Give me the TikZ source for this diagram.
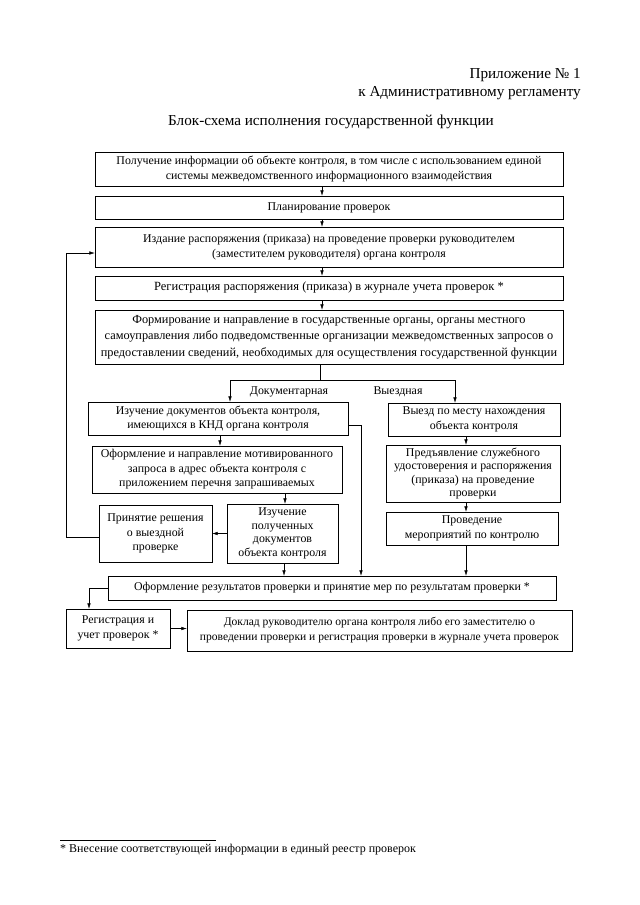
\documentclass[tikz,border=0pt]{standalone}
\usepackage{fontspec}
\setmainfont{Liberation Serif}
\usetikzlibrary{arrows.meta}
\tikzset{>={Latex[length=5pt,width=3.2pt]}}
\def\px{0.9311bp}
\tikzstyle{blok}=[rectangle,draw=black,thin,inner sep=0pt,align=center,font=\fontsize{11.1}{13.6}\selectfont]
\tikzstyle{blokbig}=[blok,font=\fontsize{11.7}{15.2}\selectfont]
\tikzstyle{bloktight}=[blok,font=\fontsize{11.1}{12.6}\selectfont]
\tikzstyle{podpis}=[inner sep=0pt,font=\fontsize{11.1}{13}\selectfont]
\tikzstyle{zagolovok}=[inner sep=0pt,font=\fontsize{14.2}{17}\selectfont]

\begin{document}
\begin{tikzpicture}[x=0.9311bp,y=-0.9311bp]
	\useasboundingbox (0,0) rectangle (639,905);

	\node[zagolovok,anchor=east] (pril) at (581,75) {Приложение № 1};
	\node[zagolovok,anchor=east] (regl) at (581,93) {к Административному регламенту};
	\node[zagolovok] (titul) at (331,122) {Блок-схема исполнения государственной функции};

	\node[blok, minimum width=468*\px, minimum height=34*\px] (b1) at (329,169) {Получение информации об объекте контроля, в том числе с использованием единой\\системы межведомственного информационного взаимодействия};
	\node[blok, minimum width=468*\px, minimum height=23*\px] (b2) at (329,207.5) {Планирование проверок};
	\node[blok, minimum width=468*\px, minimum height=40*\px] (b3) at (329,247) {Издание распоряжения (приказа) на проведение проверки руководителем\\(заместителем руководителя) органа контроля};
	\node[blokbig, minimum width=468*\px, minimum height=24*\px] (b4) at (329,288) {Регистрация распоряжения (приказа) в журнале учета проверок *};
	\node[blokbig, font=\fontsize{11.5}{15.4}\selectfont, minimum width=468*\px, minimum height=54*\px] (b5) at (329,337) {Формирование и направление в государственные органы, органы местного\\самоуправления либо подведомственные организации межведомственных запросов о\\предоставлении сведений, необходимых для осуществления государственной функции};

	\node[blok, minimum width=260*\px, minimum height=33*\px] (b6) at (218,418.5) {Изучение документов объекта контроля,\\имеющихся в КНД органа контроля};
	\node[blok, minimum width=250*\px, minimum height=47*\px] (b7) at (217,469.5) {Оформление и направление мотивированного\\запроса в адрес объекта контроля с\\приложением перечня запрашиваемых};
	\node[blok, minimum width=113*\px, minimum height=57*\px] (b8) at (155.5,533.5) {Принятие решения\\о выездной\\проверке};
	\node[bloktight, minimum width=111*\px, minimum height=59*\px] (b9) at (282.5,533.5) {Изучение\\полученных\\документов\\объекта контроля};

	\node[blok, minimum width=172*\px, minimum height=33*\px] (b10) at (474,419.5) {Выезд по месту нахождения\\объекта контроля};
	\node[bloktight, minimum width=174*\px, minimum height=57*\px] (b11) at (473,473.5) {Предъявление служебного\\удостоверения и распоряжения\\(приказа) на проведение\\проверки};
	\node[blok, minimum width=172*\px, minimum height=33*\px] (b12) at (472,528.5) {Проведение\\мероприятий по контролю};

	\node[blok, minimum width=448*\px, minimum height=24*\px] (b13) at (332,588) {Оформление результатов проверки и принятие мер по результатам проверки *};
	\node[blok, minimum width=104*\px, minimum height=39*\px] (b14) at (118,628.5) {Регистрация и\\учет проверок *};
	\node[blok, font=\fontsize{10.8}{14}\selectfont, minimum width=385*\px, minimum height=41*\px] (b15) at (379.5,630.5) {Доклад руководителю органа контроля либо его заместителю о\\проведении проверки и регистрация проверки в журнале учета проверок};

	\node[podpis] (lDok) at (289,392) {Документарная};
	\node[podpis] (lVyezd) at (398,392) {Выездная};

	\foreach \a/\b/\x in {b1/b2/322,b2/b3/322,b3/b4/322,b4/b5/322,b6/b7/220,b7/b9/285,b9/b13/284,b10/b11/466,b11/b12/466,b12/b13/466}
		\draw[->] (\a.south -| \x,0) -- (\b.north -| \x,0);

	\coordinate (razv) at (320,380);
	\draw (b5.south -| razv) -- (razv);
	\draw[->] (razv) -| (b6.north -| 230,0);
	\draw[->] (razv) -| (b10.north -| 455,0);

	\coordinate (obhod) at (361,425);
	\draw[->] (b6.east |- obhod) -- (obhod) -- (b13.north -| obhod);

	\draw[->] (b9.west) -- (b8.east);
	\coordinate (vozvrat) at (66,537);
	\draw[->] (b8.west |- vozvrat) -- (vozvrat) |- (b3.west |- 0,253);

	\draw[->] (b13.west) -| (b14.north -| 89,0);
	\draw[->] (b14.east) -- (b15.west |- b14.east);

	\draw (60,840) -- (216,840);
	\node[podpis,anchor=west,font=\fontsize{11.2}{12}\selectfont] (snoska) at (60,850) {* Внесение соответствующей информации в единый реестр проверок};
\end{tikzpicture}
\end{document}
